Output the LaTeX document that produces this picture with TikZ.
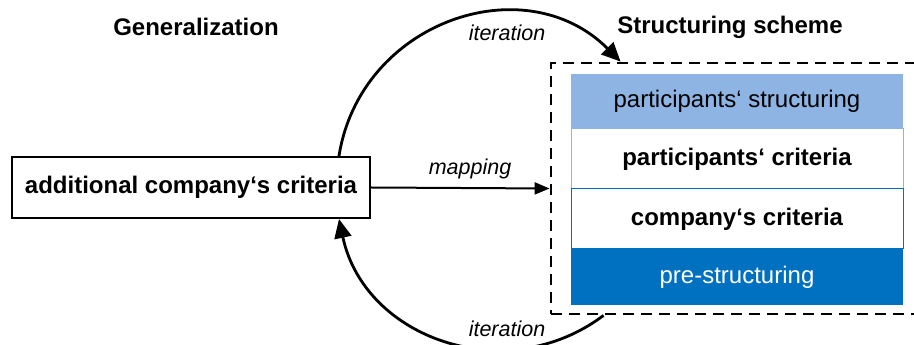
\documentclass[tikz,border=0pt]{standalone}
\usepackage{fontspec}
\setmainfont{Liberation Sans}
\usetikzlibrary{arrows.meta,calc}
\definecolor{lightblue}{HTML}{8EB4E3}
\definecolor{darkblue}{HTML}{0070C0}
\begin{document}
\begin{tikzpicture}[x=1pt,y=1pt,
  lbl/.style={font=\fontsize{21.5}{25}\selectfont\itshape, inner sep=0pt},
  titletext/.style={font=\fontsize{24}{28}\selectfont\bfseries},
  genbox/.style={draw, line width=2pt, minimum width=358pt, minimum height=61pt, inner sep=0pt, font=\fontsize{24}{28}\selectfont\bfseries},
  rowbox/.style={minimum width=332pt, inner sep=0pt, outer sep=0pt, font=\fontsize{24}{28}\selectfont},
  bigarrow/.style={line width=2.8pt, -{Triangle[length=19pt,width=17pt]}},
]
\useasboundingbox (0,0) rectangle (914,345);
\clip (0,0) rectangle (914,345);

% titles
\node[titletext] (t1) at (196,318) {Generalization};
\node[titletext] (t2) at (730,318) {Structuring scheme};

% left box
\node[genbox] (gen) at (191,157.5) {additional company‘s criteria};

% dashed scheme frame
\node[draw, line width=2.8pt, dash pattern=on 11pt off 7pt, minimum width=372pt, minimum height=251pt, inner sep=0pt] (scheme) at (737,156.5) {};

% stack rows
\node[rowbox, draw=lightblue, line width=1pt, minimum height=60pt, font=\fontsize{24}{28}\selectfont\bfseries] (r2) at (737,186) {participants‘ criteria};
\node[rowbox, draw=darkblue, line width=1pt, minimum height=60pt, font=\fontsize{24}{28}\selectfont\bfseries] (r3) at (737,126) {company‘s criteria};
\node[rowbox, fill=lightblue, minimum height=55pt] (r1) at (737,243.5) {participants‘ structuring};
\node[rowbox, fill=darkblue, text=white, minimum height=56pt] (r4) at (737,68) {pre-structuring};

% mapping arrow
\draw[line width=2pt, -{Triangle[length=15pt,width=12pt]}] (gen.east) -- (scheme.west);
\node[lbl] (map) at (470,176) {mapping};

% iteration arcs
\coordinate (ts) at ($(gen.north east)+(-32,0)$);
\coordinate (te) at ($(scheme.north west)+(71,0)$);
\draw[bigarrow] (ts) to[out=81,in=135,looseness=1.17] (te);
\node[lbl] (it1) at (507,312) {iteration};

\coordinate (bs) at ($(scheme.south west)+(54,0)$);
\coordinate (be) at ($(gen.south east)+(-32,0)$);
\draw[bigarrow] (bs) to[out=217,in=-78,looseness=1.11] (be);
\node[lbl] (it2) at (507,16) {iteration};
\end{tikzpicture}
\end{document}
